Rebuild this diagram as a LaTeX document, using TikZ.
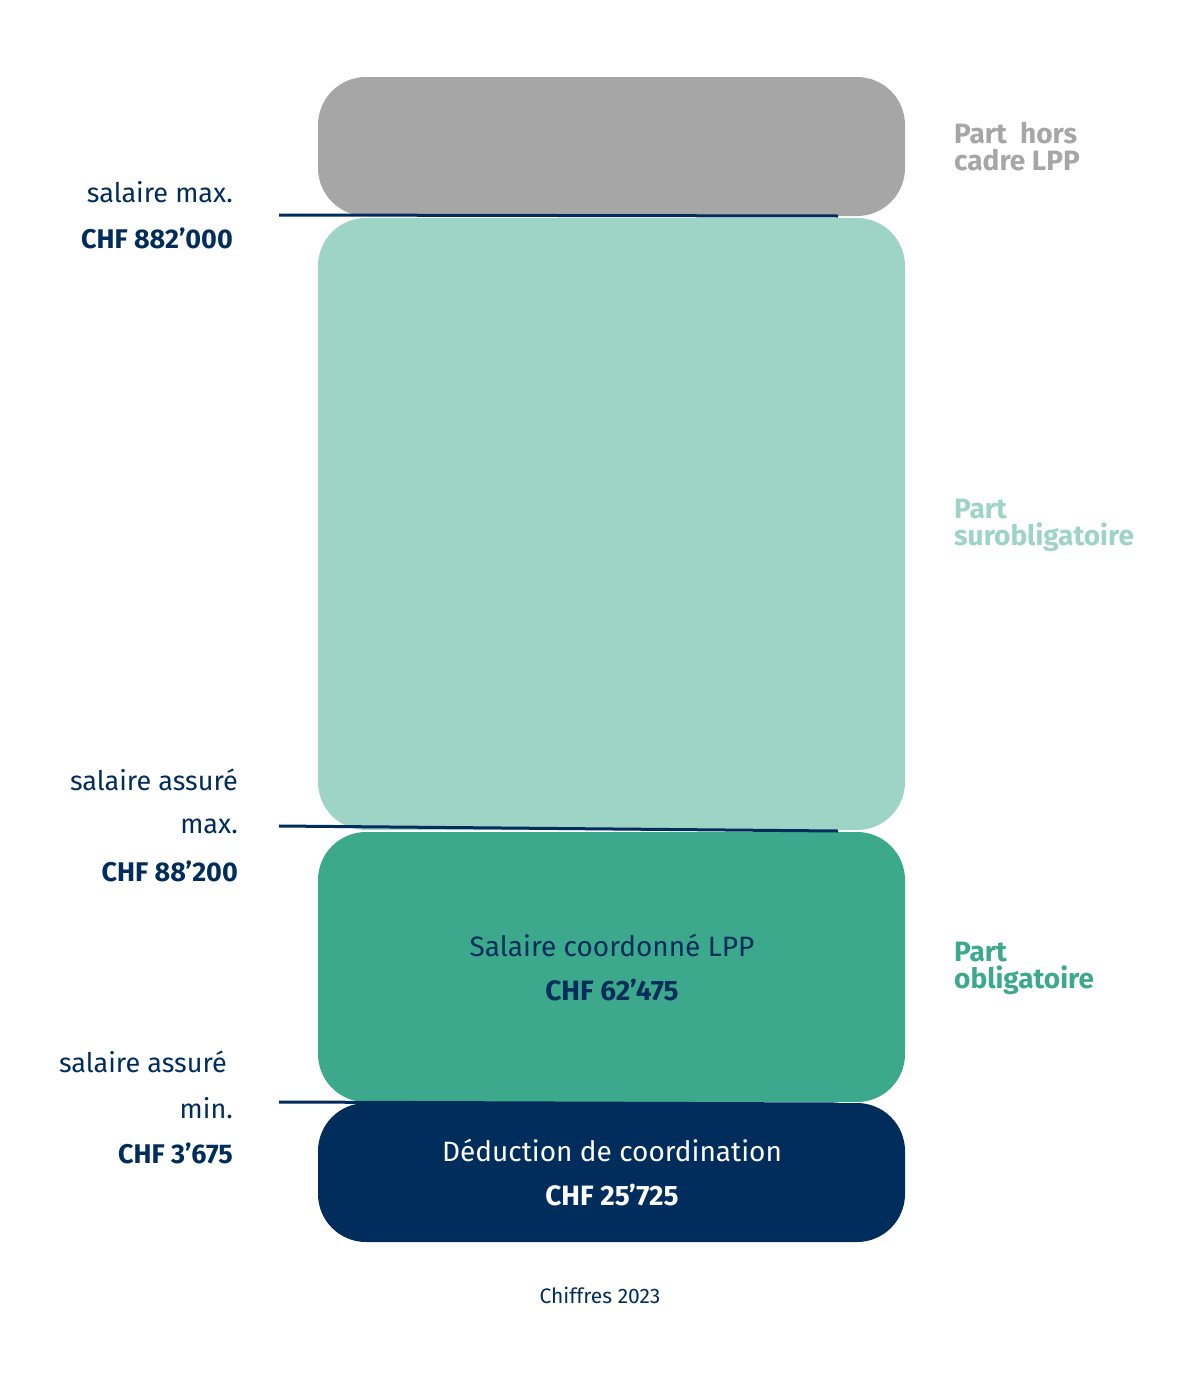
\documentclass[tikz,border=0pt]{standalone}
\usepackage{fontspec}
\setmainfont{Fira Sans}
\definecolor{cgray}{HTML}{A6A6A6}
\definecolor{clight}{HTML}{9DD4C6}
\definecolor{cgreen}{HTML}{3CA98D}
\definecolor{cnavy}{HTML}{002D5B}
\begin{document}
\begin{tikzpicture}[x=1pt,y=-1pt,
  blk/.style={rounded corners=48pt},
  lab/.style={font=\fontsize{27}{30}\selectfont,text=cnavy,anchor=east,inner sep=0},
  labb/.style={lab,font=\fontsize{27}{30}\selectfont\bfseries},
  side/.style={anchor=west,align=left,inner sep=0,font=\fontsize{28}{31}\selectfont\bfseries},
  ctr/.style={inner sep=0,font=\fontsize{28}{30}\selectfont},
  conn/.style={draw=cnavy,line width=3pt}]
\useasboundingbox (0,0) rectangle (1200,1400);
\fill[white] (0,0) rectangle (1200,1400);
\fill[cgray,blk] (318,77) rectangle (905,216);
\fill[clight,blk] (318,218) rectangle (905,830);
\fill[cgreen,blk] (318,832) rectangle (905,1102);
\fill[cnavy,blk] (318,1103) rectangle (905,1242);
\coordinate (a1) at (279,215); \coordinate (a2) at (838,216);
\coordinate (b1) at (279,826); \coordinate (b2) at (838,831);
\coordinate (c1) at (279,1102); \coordinate (c2) at (838,1104);
\draw[conn] (a1)--(a2); \draw[conn] (b1)--(b2); \draw[conn] (c1)--(c2);
\node[lab] (l1) at (233,192) {salaire max.};
\node[labb] (l2) at (233,238) {CHF 882'000};
\node[lab] (l3) at (238,780) {salaire assuré};
\node[lab] (l4) at (238,826) {max.};
\node[labb] (l5) at (238,871) {CHF 88'200};
\node[lab] (l6) at (227,1062) {salaire assuré};
\node[lab] (l7) at (233,1108) {min.};
\node[labb] (l8) at (233,1153) {CHF 3'675};
\node[side,text=cgray] (r1) at (954,147) {Part~ hors\\[-4pt]cadre LPP};
\node[side,text=clight] (r2) at (954,525) {Part\\[-4pt]surobligatoire};
\node[side,text=cgreen] (r3) at (954,968) {Part\\[-4pt]obligatoire};
\node[ctr,text=cnavy] (g1) at (612,945) {Salaire coordonné LPP};
\node[ctr,text=cnavy,font=\fontsize{28}{30}\selectfont\bfseries] (g2) at (612,990) {CHF 62'475};
\node[ctr,text=white] (n1) at (612,1150) {Déduction de coordination};
\node[ctr,text=white,font=\fontsize{28}{30}\selectfont\bfseries] (n2) at (612,1195) {CHF 25'725};
\node[ctr,text=cnavy,font=\fontsize{21}{24}\selectfont] (f) at (600,1295) {Chiffres 2023};
\end{tikzpicture}
\end{document}
